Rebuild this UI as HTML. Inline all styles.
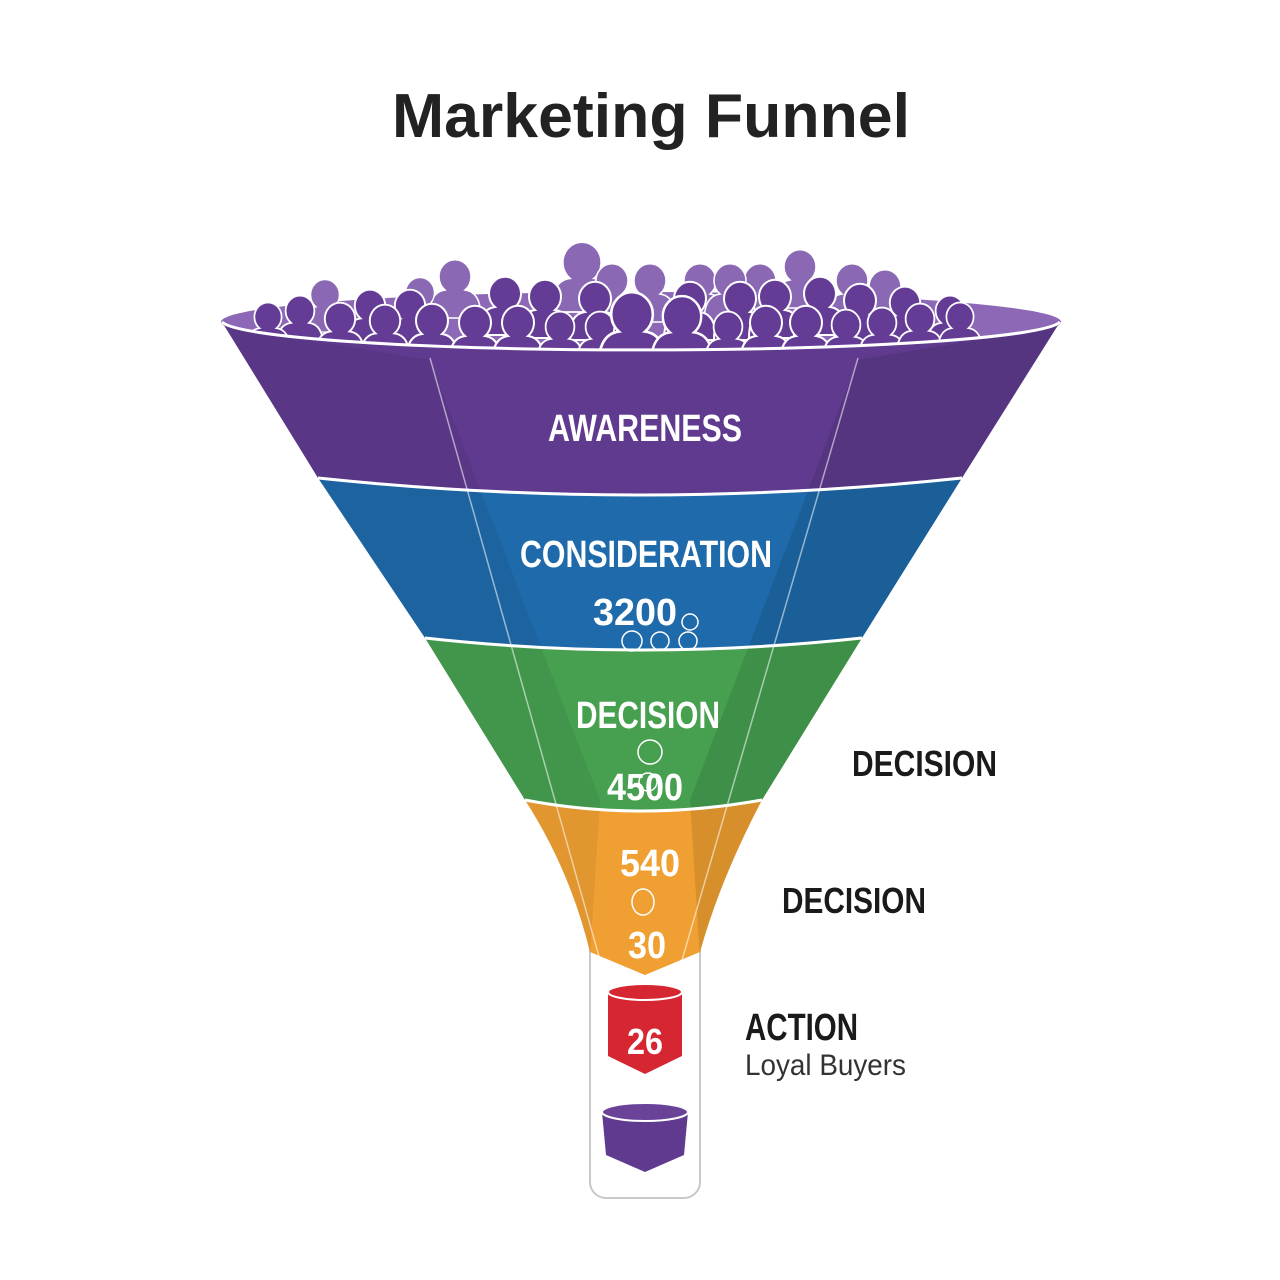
<!DOCTYPE html>
<html><head><meta charset="utf-8"><style>
html,body{margin:0;padding:0;background:#fff}
svg{display:block}
text{font-family:"Liberation Sans",sans-serif}
</style></head><body>
<svg width="1280" height="1280" viewBox="0 0 1280 1280" xmlns="http://www.w3.org/2000/svg">
<defs>
<path id="pp" d="M-26,0 Q-26,-26 -10,-28 A16,17 0 1 1 10,-28 Q26,-26 26,0 Z"/>
<clipPath id="fc"><path d="M222,322 A420,30 0 0 0 1060,322 L962,478 L862,638 L762,800 Q720,880 700,952 L645,975 L590,952 Q570,870 525,800 L425,638 L318,478 Z"/></clipPath>
</defs>
<rect width="1280" height="1280" fill="#fff"/>
<text x="651" y="137" text-anchor="middle" font-size="62" font-weight="bold" fill="#222" textLength="518" lengthAdjust="spacingAndGlyphs">Marketing Funnel</text>

<rect x="590" y="930" width="110" height="268" rx="16" fill="#fff" stroke="#c8c8c8" stroke-width="2"/>

<ellipse cx="641" cy="322" rx="420" ry="30" fill="#8c68b6"/>

<g fill="#8a68b4" stroke="#fff" stroke-width="1.5">
<use href="#pp" transform="translate(455,318)"/>
<use href="#pp" transform="translate(582,312) scale(1.2)"/>
<use href="#pp" transform="translate(612,322)"/>
<use href="#pp" transform="translate(650,322)"/>
<use href="#pp" transform="translate(700,322)"/>
<use href="#pp" transform="translate(760,322)"/>
<use href="#pp" transform="translate(800,308)"/>
<use href="#pp" transform="translate(852,322)"/>
<use href="#pp" transform="translate(885,328)"/>
<use href="#pp" transform="translate(325,332) scale(0.9)"/>
<use href="#pp" transform="translate(420,330) scale(0.9)"/>
<use href="#pp" transform="translate(730,322)"/>
</g>
<g fill="#643c96" stroke="#fff" stroke-width="2">
<use href="#pp" transform="translate(505,335)"/>
<use href="#pp" transform="translate(545,338)"/>
<use href="#pp" transform="translate(595,340)"/>
<use href="#pp" transform="translate(690,340)"/>
<use href="#pp" transform="translate(740,340)"/>
<use href="#pp" transform="translate(775,338)"/>
<use href="#pp" transform="translate(820,335)"/>
<use href="#pp" transform="translate(860,342)"/>
<use href="#pp" transform="translate(905,342) scale(0.95)"/>
<use href="#pp" transform="translate(410,345) scale(0.95)"/>
<use href="#pp" transform="translate(370,345) scale(0.95)"/>
<use href="#pp" transform="translate(300,348) scale(0.9)"/>
<use href="#pp" transform="translate(950,348) scale(0.9)"/>
<use href="#pp" transform="translate(268,352) scale(0.85)"/>
<use href="#pp" transform="translate(340,358) scale(0.95)"/>
<use href="#pp" transform="translate(385,360) scale(0.95)"/>
<use href="#pp" transform="translate(432,362)"/>
<use href="#pp" transform="translate(475,364)"/>
<use href="#pp" transform="translate(518,364)"/>
<use href="#pp" transform="translate(560,364) scale(0.9)"/>
<use href="#pp" transform="translate(600,364) scale(0.9)"/>
<use href="#pp" transform="translate(632,368) scale(1.3)"/>
<use href="#pp" transform="translate(682,366) scale(1.2)"/>
<use href="#pp" transform="translate(728,364) scale(0.9)"/>
<use href="#pp" transform="translate(766,364)"/>
<use href="#pp" transform="translate(806,364)"/>
<use href="#pp" transform="translate(846,362) scale(0.9)"/>
<use href="#pp" transform="translate(882,360) scale(0.9)"/>
<use href="#pp" transform="translate(920,356) scale(0.9)"/>
<use href="#pp" transform="translate(960,352) scale(0.85)"/>
</g>

<path d="M222,322 A420,30 0 0 0 1060,322 L962,478 Q640,512 318,478 Z" fill="#5f3a8f"/>
<path d="M318,478 Q640,512 962,478 L862,638 Q640,662 425,638 Z" fill="#1e6aaa"/>
<path d="M425,638 Q640,662 862,638 L762,800 Q640,822 525,800 Z" fill="#46a050"/>
<path d="M525,800 Q640,822 762,800 Q720,880 700,952 L645,975 L590,952 Q570,870 525,800 Z" fill="#f0a032"/>
<g clip-path="url(#fc)">
<path d="M200,322 L525,800 L590,960 L600,800 L430,360 Z" fill="#000" opacity="0.06"/>
<path d="M1080,322 L762,800 L700,960 L690,800 L858,360 Z" fill="#000" opacity="0.1"/>
</g>
<path d="M222,322 A420,30 0 0 0 1060,322" fill="none" stroke="#fff" stroke-width="3"/>
<path d="M318,478 Q640,512 962,478" fill="none" stroke="#fff" stroke-width="3"/>
<path d="M425,638 Q640,662 862,638" fill="none" stroke="#fff" stroke-width="3"/>
<path d="M525,800 Q640,822 762,800" fill="none" stroke="#fff" stroke-width="3"/>
<path d="M430,358 L600,960" stroke="#fff" stroke-opacity="0.55" stroke-width="1.5" fill="none"/>
<path d="M858,358 L682,960" stroke="#fff" stroke-opacity="0.55" stroke-width="1.5" fill="none"/>

<g fill="#fff" font-weight="bold" text-anchor="middle">
<text x="645" y="441" font-size="38" textLength="194" lengthAdjust="spacingAndGlyphs">AWARENESS</text>
<text x="646" y="567" font-size="38" textLength="252" lengthAdjust="spacingAndGlyphs">CONSIDERATION</text>
<text x="635" y="625" font-size="38" textLength="84" lengthAdjust="spacingAndGlyphs">3200</text>
<text x="648" y="728" font-size="38" textLength="144" lengthAdjust="spacingAndGlyphs">DECISION</text>
<text x="645" y="800" font-size="38" textLength="76" lengthAdjust="spacingAndGlyphs">4500</text>
<text x="650" y="876" font-size="38" textLength="60" lengthAdjust="spacingAndGlyphs">540</text>
<text x="647" y="958" font-size="38" textLength="38" lengthAdjust="spacingAndGlyphs">30</text>
</g>
<g fill="none" stroke="#fff" stroke-width="1.5">
<circle cx="632" cy="641" r="10"/><circle cx="660" cy="641" r="9"/><circle cx="688" cy="641" r="9"/><circle cx="690" cy="622" r="8"/>
<circle cx="650" cy="752" r="12"/><circle cx="648" cy="782" r="9"/>
<ellipse cx="643" cy="902" rx="11" ry="13"/>
</g>

<path d="M608,992 L682,992 L682,1056 L645,1074 L608,1056 Z" fill="#d62631"/>
<ellipse cx="645" cy="992" rx="37" ry="8" fill="#d62631" stroke="#fff" stroke-width="2"/>
<text x="645" y="1054" font-size="36" font-weight="bold" fill="#fff" text-anchor="middle" textLength="36" lengthAdjust="spacingAndGlyphs">26</text>

<path d="M602,1112 L688,1112 L684,1155 L645,1172 L606,1155 Z" fill="#5f3a8f"/>
<ellipse cx="645" cy="1112" rx="43" ry="9" fill="#6a4399" stroke="#fff" stroke-width="2"/>

<g fill="#1a1a1a" font-weight="bold">
<text x="852" y="776" font-size="36" textLength="145" lengthAdjust="spacingAndGlyphs">DECISION</text>
<text x="782" y="913" font-size="36" textLength="144" lengthAdjust="spacingAndGlyphs">DECISION</text>
<text x="745" y="1040" font-size="38" textLength="113" lengthAdjust="spacingAndGlyphs">ACTION</text>
</g>
<text x="745" y="1075" font-size="30" fill="#333" textLength="161" lengthAdjust="spacingAndGlyphs">Loyal Buyers</text>
</svg>
</body></html>
